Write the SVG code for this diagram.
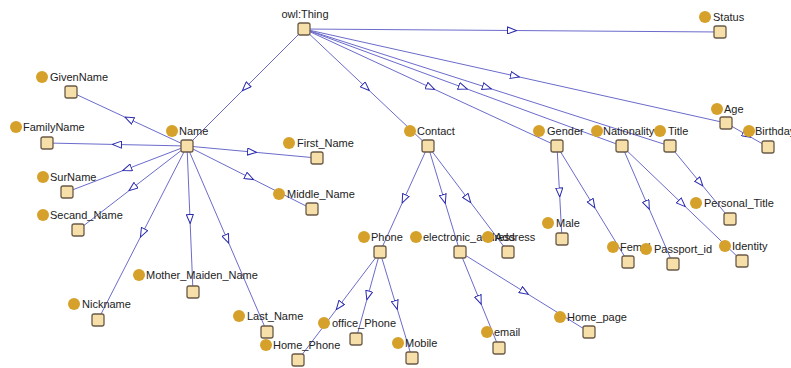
<svg xmlns="http://www.w3.org/2000/svg" width="791" height="368" viewBox="0 0 791 368">
<style>
.e{fill:none;stroke:#6b6bcc;stroke-width:1;marker-mid:url(#tri)}
.s{fill:#f6dfa8;stroke:#6a5a48;stroke-width:1.3}
.c{fill:#d6a12a}
text{font-family:"Liberation Sans",Arial,sans-serif;font-size:11px;fill:#222}
</style>
<defs>
<marker id="tri" viewBox="0 0 10 8" refX="5" refY="4" markerWidth="10" markerHeight="8" markerUnits="userSpaceOnUse" orient="auto">
<path d="M0.5,0.5 L9.5,4 L0.5,7.5 Z" fill="#fff" stroke="#2a2ab0" stroke-width="1"/>
</marker>
</defs>
<rect width="791" height="368" fill="#fff"/>
<g id="connectors">
<polyline class="e" points="304,29 245.5,87.5 187,146"/>
<polyline class="e" points="304,29 366,87.5 428,146"/>
<polyline class="e" points="304,29 430.5,87.5 557,146"/>
<polyline class="e" points="304,29 463,87.5 622,146"/>
<polyline class="e" points="304,29 487,87.5 670,146"/>
<polyline class="e" points="304,29 515,76 726,123"/>
<polyline class="e" points="304,29 512,30.5 720,32"/>
<polyline class="e" points="726,123 747,135 768,147"/>
<polyline class="e" points="187,146 129,119 71,92"/>
<polyline class="e" points="187,146 117,144.5 47,143"/>
<polyline class="e" points="187,146 127,169 67,192"/>
<polyline class="e" points="187,146 132.5,188 78,230"/>
<polyline class="e" points="187,146 142.5,233 98,320"/>
<polyline class="e" points="187,146 190,219 193,292"/>
<polyline class="e" points="187,146 227,239 267,332"/>
<polyline class="e" points="187,146 252,152 317,158"/>
<polyline class="e" points="187,146 249.5,177.5 312,209"/>
<polyline class="e" points="428,146 404,199 380,252"/>
<polyline class="e" points="428,146 444,199 460,252"/>
<polyline class="e" points="428,146 468,199 508,252"/>
<polyline class="e" points="557,146 559.5,192.5 562,239"/>
<polyline class="e" points="557,146 592.5,204 628,262"/>
<polyline class="e" points="622,146 647.5,205 673,264"/>
<polyline class="e" points="622,146 682,203.5 742,261"/>
<polyline class="e" points="670,146 700,182.5 730,219"/>
<polyline class="e" points="380,252 339,306 298,360"/>
<polyline class="e" points="380,252 368,295.5 356,339"/>
<polyline class="e" points="380,252 396,305 412,358"/>
<polyline class="e" points="460,252 479.5,300 499,348"/>
<polyline class="e" points="460,252 524.5,292 589,332"/>
</g>
<g id="owl_Thing"><text x="305" y="18" text-anchor="middle">owl:Thing</text><rect class="s" x="298" y="23" width="12" height="12" rx="2"/></g>
<g id="Status"><circle class="c" cx="705" cy="17" r="6"/><text x="713" y="21">Status</text><rect class="s" x="714" y="26" width="12" height="12" rx="2"/></g>
<g id="Age"><circle class="c" cx="717" cy="109" r="6"/><text x="724" y="113">Age</text><rect class="s" x="720" y="117" width="12" height="12" rx="2"/></g>
<g id="Birthday"><circle class="c" cx="749" cy="131" r="6"/><text x="755" y="135">Birthday</text><rect class="s" x="762" y="141" width="12" height="12" rx="2"/></g>
<g id="Title"><circle class="c" cx="660" cy="131" r="6"/><text x="668" y="135">Title</text><rect class="s" x="664" y="140" width="12" height="12" rx="2"/></g>
<g id="Nationality"><circle class="c" cx="597" cy="131" r="6"/><text x="603" y="135">Nationality</text><rect class="s" x="616" y="140" width="12" height="12" rx="2"/></g>
<g id="Gender"><circle class="c" cx="539" cy="131" r="6"/><text x="547" y="135">Gender</text><rect class="s" x="551" y="140" width="12" height="12" rx="2"/></g>
<g id="Contact"><circle class="c" cx="410" cy="131" r="6"/><text x="417" y="135">Contact</text><rect class="s" x="422" y="140" width="12" height="12" rx="2"/></g>
<g id="Name"><circle class="c" cx="172" cy="131" r="6"/><text x="179" y="135">Name</text><rect class="s" x="181" y="140" width="12" height="12" rx="2"/></g>
<g id="GivenName"><circle class="c" cx="42" cy="77" r="6"/><text x="50" y="81">GivenName</text><rect class="s" x="65" y="86" width="12" height="12" rx="2"/></g>
<g id="FamilyName"><circle class="c" cx="16" cy="127" r="6"/><text x="23" y="131">FamilyName</text><rect class="s" x="41" y="137" width="12" height="12" rx="2"/></g>
<g id="SurName"><circle class="c" cx="43" cy="177" r="6"/><text x="50" y="181">SurName</text><rect class="s" x="61" y="186" width="12" height="12" rx="2"/></g>
<g id="Secand_Name"><circle class="c" cx="43" cy="215" r="6"/><text x="50" y="219">Secand_Name</text><rect class="s" x="72" y="224" width="12" height="12" rx="2"/></g>
<g id="Nickname"><circle class="c" cx="74" cy="304" r="6"/><text x="82" y="308">Nickname</text><rect class="s" x="92" y="314" width="12" height="12" rx="2"/></g>
<g id="Mother_Maiden_Name"><circle class="c" cx="139" cy="275" r="6"/><text x="146" y="279">Mother_Maiden_Name</text><rect class="s" x="187" y="286" width="12" height="12" rx="2"/></g>
<g id="Last_Name"><circle class="c" cx="239" cy="316" r="6"/><text x="247" y="320">Last_Name</text><rect class="s" x="261" y="326" width="12" height="12" rx="2"/></g>
<g id="First_Name"><circle class="c" cx="289" cy="143" r="6"/><text x="297" y="147">First_Name</text><rect class="s" x="311" y="152" width="12" height="12" rx="2"/></g>
<g id="Middle_Name"><circle class="c" cx="279" cy="194" r="6"/><text x="287" y="198">Middle_Name</text><rect class="s" x="306" y="203" width="12" height="12" rx="2"/></g>
<g id="Phone"><circle class="c" cx="364" cy="237" r="6"/><text x="371" y="241">Phone</text><rect class="s" x="374" y="246" width="12" height="12" rx="2"/></g>
<g id="electronic_address"><circle class="c" cx="416" cy="237" r="6"/><text x="423" y="241">electronic_address</text><rect class="s" x="454" y="246" width="12" height="12" rx="2"/></g>
<g id="Address"><circle class="c" cx="488" cy="237" r="6"/><text x="495" y="241">Address</text><rect class="s" x="502" y="246" width="12" height="12" rx="2"/></g>
<g id="Male"><circle class="c" cx="548" cy="223" r="6"/><text x="556" y="227">Male</text><rect class="s" x="556" y="233" width="12" height="12" rx="2"/></g>
<g id="Femal"><circle class="c" cx="613" cy="247" r="6"/><text x="620" y="251">Femal</text><rect class="s" x="622" y="256" width="12" height="12" rx="2"/></g>
<g id="Passport_id"><circle class="c" cx="646" cy="249" r="6"/><text x="654" y="253">Passport_id</text><rect class="s" x="667" y="258" width="12" height="12" rx="2"/></g>
<g id="Identity"><circle class="c" cx="725" cy="246" r="6"/><text x="732" y="250">Identity</text><rect class="s" x="736" y="255" width="12" height="12" rx="2"/></g>
<g id="Personal_Title"><circle class="c" cx="696" cy="203" r="6"/><text x="704" y="207">Personal_Title</text><rect class="s" x="724" y="213" width="12" height="12" rx="2"/></g>
<g id="office_Phone"><circle class="c" cx="324" cy="323" r="6"/><text x="332" y="327">office_Phone</text><rect class="s" x="350" y="333" width="12" height="12" rx="2"/></g>
<g id="Home_Phone"><circle class="c" cx="266" cy="345" r="6"/><text x="273" y="349">Home_Phone</text><rect class="s" x="292" y="354" width="12" height="12" rx="2"/></g>
<g id="Mobile"><circle class="c" cx="398" cy="343" r="6"/><text x="405" y="347">Mobile</text><rect class="s" x="406" y="352" width="12" height="12" rx="2"/></g>
<g id="email"><circle class="c" cx="487" cy="332" r="6"/><text x="494" y="336">email</text><rect class="s" x="493" y="342" width="12" height="12" rx="2"/></g>
<g id="Home_page"><circle class="c" cx="560" cy="317" r="6"/><text x="567" y="321">Home_page</text><rect class="s" x="583" y="326" width="12" height="12" rx="2"/></g>
</svg>
